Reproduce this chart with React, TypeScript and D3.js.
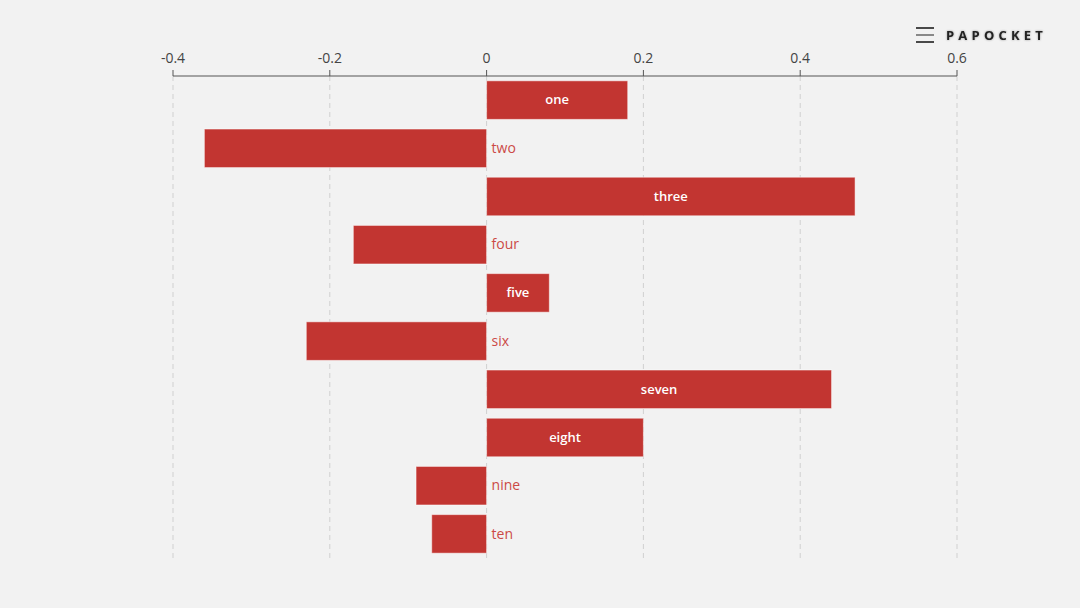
import React from "react";
import * as d3 from "d3";

const categories = ["one", "two", "three", "four", "five", "six", "seven", "eight", "nine", "ten"];
const values = [0.18, -0.36, 0.47, -0.17, 0.08, -0.23, 0.44, 0.2, -0.09, -0.07];
const ticks = [-0.4, -0.2, 0, 0.2, 0.4, 0.6];

const W = 1080;
const H = 608;
const FONT = "'Open Sans', 'Noto Sans', sans-serif";

export default function App() {
  if (typeof document !== "undefined") document.body.style.margin = "0";
  const x = d3.scaleLinear().domain([-0.4, 0.6]).range([173, 957]);
  const y = d3.scaleBand<string>().domain(categories).range([76, 558]).paddingInner(0.2).paddingOuter(0.1);
  const fmt = (v: number) => (v === 0 ? "0" : String(v));
  return (
    <div style={{ position: "fixed", left: 0, top: 0 }}>
      <svg width={W} height={H} style={{ display: "block", background: "#f2f2f2" }}>
        <rect x={0} y={0} width={W} height={H} fill="#f2f2f2" />
        {ticks.map((t) => (
          <line key={"g" + t} x1={x(t)} x2={x(t)} y1={76} y2={558} stroke="#d0d0d0" strokeDasharray="5,4" strokeWidth={1} />
        ))}
        {values.map((v, i) => {
          const c = categories[i];
          const x0 = x(Math.min(0, v));
          const w = Math.abs(x(v) - x(0));
          const yy = y(c)!;
          const bh = y.bandwidth();
          return (
            <g key={c}>
              <rect x={x0} y={yy} width={w} height={bh} fill="#c23531" stroke="rgba(255,255,255,0.5)" strokeWidth={1} />
              {v > 0 ? (
                <text x={x0 + w / 2} y={yy + bh / 2} dy="0.33em" textAnchor="middle" fill="#fff" fontSize={13} fontWeight={600} fontFamily={FONT}>
                  {c}
                </text>
              ) : (
                <text x={x(0) + 5} y={yy + bh / 2} dy="0.33em" textAnchor="start" fill="#cc4a46" fontSize={14} fontFamily={FONT}>
                  {c}
                </text>
              )}
            </g>
          );
        })}
        <line x1={x(-0.4)} x2={x(0.6)} y1={76} y2={76} stroke="#555" strokeWidth={1} />
        {ticks.map((t) => (
          <g key={"t" + t}>
            <line x1={x(t)} x2={x(t)} y1={70} y2={76} stroke="#555" strokeWidth={1} />
            <text x={x(t)} y={63} textAnchor="middle" fill="#444" fontSize={14} fontFamily={FONT}>
              {fmt(t)}
            </text>
          </g>
        ))}
        <g>
          <line x1={916} x2={934} y1={28} y2={28} stroke="#111" strokeWidth={1.5} />
          <line x1={916} x2={934} y1={35} y2={35} stroke="#666" strokeWidth={1.5} />
          <line x1={916} x2={934} y1={42} y2={42} stroke="#111" strokeWidth={1.5} />
          <text x={946} y={40} fill="#222" fontSize={13} fontWeight="bold" letterSpacing={4.2} fontFamily={FONT} style={{ filter: "drop-shadow(0px 0px 1px rgba(0,0,0,0.35))" }}>
            PAPOCKET
          </text>
        </g>
      </svg>
    </div>
  );
}
